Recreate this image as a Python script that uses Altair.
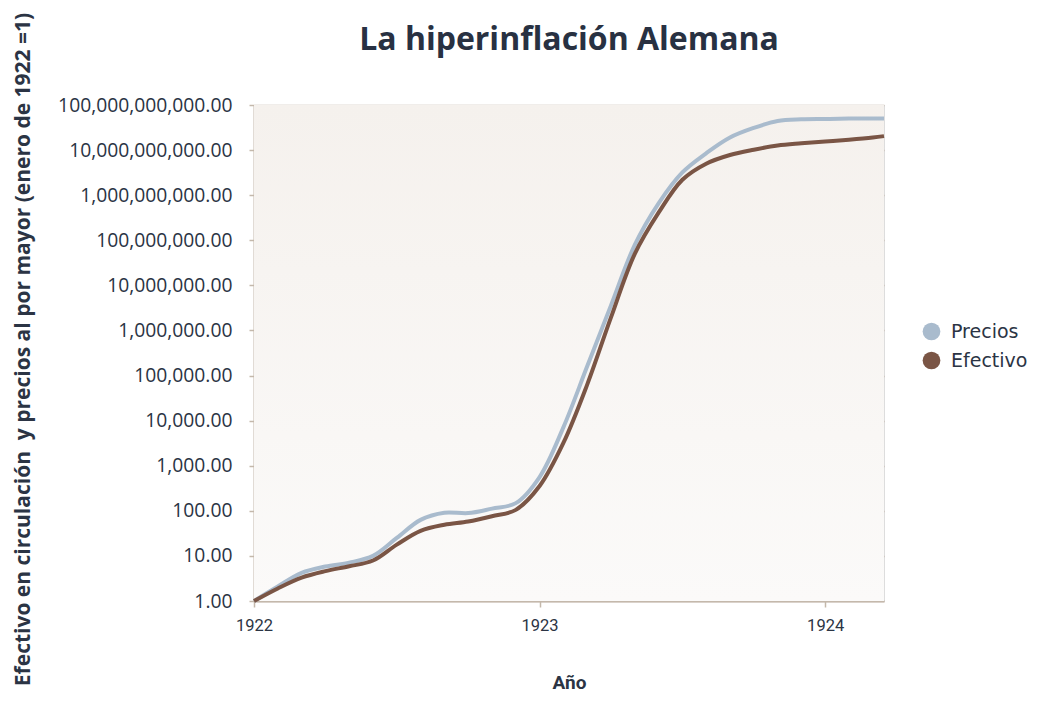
import altair as alt
import pandas as pd

# Time in fractional years (monthly readings, last reading mid-March 1924)
anios = [1922.0, 1922.0833, 1922.1667, 1922.25, 1922.3333, 1922.4167, 1922.5,
         1922.5833, 1922.6667, 1922.75, 1922.8333, 1922.9167,
         1923.0, 1923.0833, 1923.1667, 1923.25, 1923.3333, 1923.4167, 1923.5,
         1923.5833, 1923.6667, 1923.75, 1923.8333, 1923.9167,
         1924.0, 1924.0833, 1924.1667, 1924.206]

precios = [1, 2.1, 4.2, 5.8, 7.1, 10, 25, 63, 91, 89, 112, 148,
           562, 7.1e3, 1.6e5, 3.6e6, 7.9e7, 6.6e8, 3.2e9,
           8.5e9, 1.9e10, 3.1e10, 4.4e10, 4.8e10,
           4.9e10, 5.0e10, 5.0e10, 5.0e10]

efectivo = [1, 1.9, 3.3, 4.6, 5.9, 7.9, 17.8, 36, 49, 58, 76, 105,
            355, 3.2e3, 6.3e4, 1.95e6, 5.0e7, 4.1e8, 2.2e9,
            5.0e9, 7.8e9, 1.02e10, 1.26e10, 1.41e10,
            1.55e10, 1.70e10, 1.9e10, 2.04e10]

series = ["Precios", "Efectivo"]
colores = ["#a9bbcd", "#7a5545"]
y_ticks = [1, 10, 100, 1e3, 1e4, 1e5, 1e6, 1e7, 1e8, 1e9, 1e10, 1e11]
x_ticks = [1922, 1923, 1924]

rows = []
for a, p, e in zip(anios, precios, efectivo):
    rows.append({"anio": a, "valor": p, "serie": "Precios"})
    rows.append({"anio": a, "valor": e, "serie": "Efectivo"})
df = pd.DataFrame(rows)

grid_col = "#c4b8ab"
txt_col = "#2b3444"
W, H = 630, 496

fondo = alt.Chart(pd.DataFrame({"k": [0]})).mark_rect(
    color=alt.LinearGradient(
        gradient="linear", x1=0, y1=0, x2=0, y2=1,
        stops=[alt.GradientStop(offset=0, color="#f5f1ed"),
               alt.GradientStop(offset=1, color="#fbfaf9")])
).encode(x=alt.value(0), x2=alt.value(W), y=alt.value(0), y2=alt.value(H))

lineas = alt.Chart(df).mark_line(
    strokeWidth=4, interpolate="catmull-rom",
    point=alt.OverlayMarkDef(filled=True, size=0),
).encode(
    x=alt.X("anio:Q",
            scale=alt.Scale(domain=[1922, 1924.206], nice=False, zero=False),
            axis=alt.Axis(title="Año", values=x_ticks, format="d", grid=False,
                          labelFont="Roboto", labelFontSize=16.5,
                          labelColor=txt_col, labelPadding=10, labelFlush=False,
                          tickSize=6, tickColor=grid_col, tickWidth=1.5,
                          domainColor=grid_col, domainWidth=2,
                          titleFont="Roboto", titleFontWeight="bold",
                          titleFontSize=19, titleColor=txt_col,
                          titleBaseline="alphabetic", titleY=87)),
    y=alt.Y("valor:Q",
            scale=alt.Scale(type="log", domain=[1, 1e11], nice=False),
            axis=alt.Axis(title="Efectivo en circulación \u00a0y precios al por mayor (enero de 1922 =1)",
                          values=y_ticks, format=",.2f",
                          labelFont="Open Sans", labelFontSize=19.3, labelColor=txt_col,
                          labelPadding=17, tickSize=5, tickColor=grid_col, tickWidth=1.5,
                          domainColor=grid_col, domainWidth=2,
                          gridColor=grid_col, gridWidth=1.6,
                          titleFont="Open Sans", titleFontWeight="bold",
                          titleFontSize=21, titleColor=txt_col,
                          titleX=-231, titleY=244, titleBaseline="middle",
                          titleAlign="center", titleAngle=270)),
    color=alt.Color("serie:N",
                    scale=alt.Scale(domain=series, range=colores),
                    sort=series,
                    legend=alt.Legend(title=None, orient="none", legendX=668, legendY=217,
                                      symbolType="circle", symbolSize=314,
                                      symbolStrokeWidth=0, symbolOpacity=1,
                                      labelFont="DejaVu Sans", labelFontSize=19,
                                      labelColor=txt_col, labelOffset=10,
                                      rowPadding=9, padding=0)),
)

chart = alt.layer(fondo, lineas).properties(
    width=W,
    height=H,
    title=alt.TitleParams("La hiperinflación Alemana", font="Open Sans",
                          fontSize=32, fontWeight="bold", color="#283142",
                          anchor="middle", frame="group", offset=-45),
    autosize=alt.AutoSizeParams(type="none"),
    padding={"left": 246, "top": 97, "right": 145, "bottom": 93},
).configure_view(
    stroke=None,
).configure(background="white")

chart.save("out.html", embed_options={"renderer": "svg", "actions": False})
